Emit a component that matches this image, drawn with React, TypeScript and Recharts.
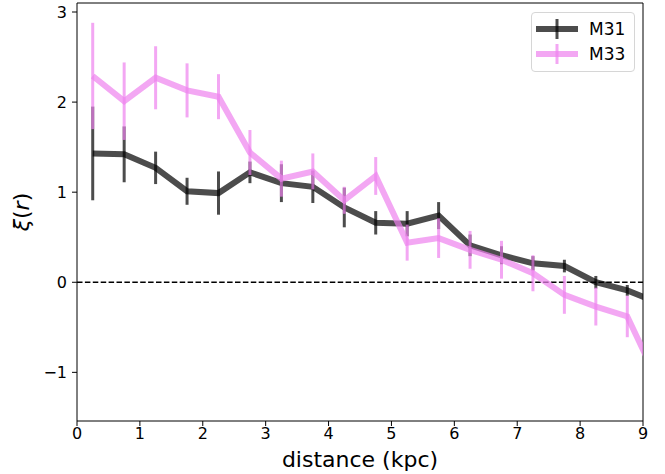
import React from 'react';
import {
  ComposedChart,
  Line,
  XAxis,
  YAxis,
  ErrorBar,
  ReferenceLine,
  Legend,
} from 'recharts';

// bin centres in kpc (last bin sits past the x limit and gets clipped)
const distance = [0.25, 0.75, 1.25, 1.75, 2.25, 2.75, 3.25, 3.75, 4.25, 4.75, 5.25, 5.75, 6.25, 6.75, 7.25, 7.75, 8.25, 8.75, 9.25];

const m31 = [1.43, 1.42, 1.27, 1.01, 0.99, 1.22, 1.10, 1.06, 0.83, 0.66, 0.65, 0.74, 0.41, 0.30, 0.21, 0.18, 0.0, -0.09, -0.23];
const m31Err = [0.52, 0.31, 0.18, 0.15, 0.24, 0.12, 0.21, 0.18, 0.22, 0.13, 0.14, 0.15, 0.12, 0.10, 0.08, 0.07, 0.07, 0.06, 0];

const m33 = [2.29, 2.01, 2.27, 2.13, 2.06, 1.44, 1.15, 1.23, 0.91, 1.18, 0.44, 0.49, 0.36, 0.25, 0.10, -0.14, -0.27, -0.38, -1.12];
const m33Err = [0.59, 0.43, 0.35, 0.30, 0.25, 0.25, 0.20, 0.20, 0.15, 0.21, 0.20, 0.22, 0.21, 0.21, 0.20, 0.21, 0.21, 0.23, 0];

const xTicks = [0, 1, 2, 3, 4, 5, 6, 7, 8, 9];
const yTicks = [-1, 0, 1, 2, 3];
const xLimits = [0, 9];
const yLimits = [-1.54, 3.1];

const series = [
  { key: 'm31', name: 'M31', color: '#000000' },
  { key: 'm33', name: 'M33', color: '#ee82ee' },
];

const font = '"DejaVu Sans", sans-serif';

const data = distance.map((d, i) => ({
  distance: d,
  m31: m31[i],
  m31Err: m31Err[i],
  m33: m33[i],
  m33Err: m33Err[i],
}));

const renderLegend = () => (
  <div
    style={{
      border: '1px solid #d6d6d6',
      borderRadius: 4,
      background: 'rgba(255,255,255,0.8)',
      padding: '3px 4px 5px 4px',
      fontFamily: font,
      fontSize: 17,
      color: '#000',
    }}
  >
    {series.map(s => (
      <div key={s.key} style={{ display: 'flex', alignItems: 'center', height: 25 }}>
        <svg width={42} height={22}>
          <line x1={0} x2={42} y1={11} y2={11} stroke={s.color} strokeOpacity={0.7} strokeWidth={6} />
          <line x1={21} x2={21} y1={1} y2={21} stroke={s.color} strokeOpacity={0.7} strokeWidth={3} />
        </svg>
        <span style={{ marginLeft: 11 }}>{s.name}</span>
      </div>
    ))}
  </div>
);

const YLabel = (props: any) => {
  const { viewBox } = props;
  const cx = viewBox.x + 21;
  const cy = viewBox.y + viewBox.height / 2;
  return (
    <text
      x={cx}
      y={cy}
      transform={`rotate(-90, ${cx}, ${cy})`}
      textAnchor="middle"
      dominantBaseline="central"
      fontFamily={font}
      fontSize={22}
      fill="#000"
    >
      <tspan fontStyle="italic">ξ</tspan>
      <tspan>(</tspan>
      <tspan fontStyle="italic">r</tspan>
      <tspan>)</tspan>
    </text>
  );
};

const tickStyle = { fontSize: 16, fill: '#000', fontFamily: font };

export default function App() {
  return (
    <div style={{ position: 'absolute', left: 0, top: 0, width: 665, height: 474, background: '#fff' }}>
      <ComposedChart width={665} height={474} data={data} margin={{ top: 3, right: 22, bottom: 0, left: 0 }}>
        <XAxis
          dataKey="distance"
          type="number"
          domain={xLimits}
          ticks={xTicks}
          interval={0}
          allowDataOverflow
          height={53}
          tickSize={5}
          tickMargin={2}
          tick={tickStyle}
          tickLine={{ stroke: '#000' }}
          axisLine={{ stroke: '#000' }}
          label={{ value: 'distance (kpc)', position: 'insideBottom', offset: 7, fontSize: 22, fill: '#000', fontFamily: font }}
        />
        <YAxis
          type="number"
          domain={yLimits}
          ticks={yTicks}
          interval={0}
          allowDataOverflow
          width={77}
          tickSize={5}
          tickMargin={5}
          tick={tickStyle}
          tickFormatter={(v: number) => String(v).replace('-', '\u2212')}
          tickLine={{ stroke: '#000' }}
          axisLine={{ stroke: '#000' }}
          label={<YLabel />}
        />
        {/* top and right frame */}
        <ReferenceLine y={yLimits[1]} stroke="#000" strokeWidth={1} ifOverflow="visible" />
        <ReferenceLine x={xLimits[1]} stroke="#000" strokeWidth={1} ifOverflow="visible" />
        <ReferenceLine y={0} stroke="#000" strokeWidth={1.5} strokeDasharray="5.5 2.4" />
        {series.map(s => (
          <Line
            key={s.key}
            dataKey={s.key}
            name={s.name}
            type="linear"
            stroke={s.color}
            strokeOpacity={0.7}
            strokeWidth={6}
            dot={false}
            activeDot={false}
            isAnimationActive={false}
          >
            <ErrorBar
              dataKey={`${s.key}Err`}
              direction="y"
              width={0}
              stroke={s.color}
              strokeOpacity={0.7}
              strokeWidth={3}
              isAnimationActive={false}
            />
          </Line>
        ))}
        <Legend
          layout="vertical"
          align="center"
          verticalAlign="middle"
          content={renderLegend}
          wrapperStyle={{ left: 531, top: 12, width: 104 }}
        />
      </ComposedChart>
    </div>
  );
}
